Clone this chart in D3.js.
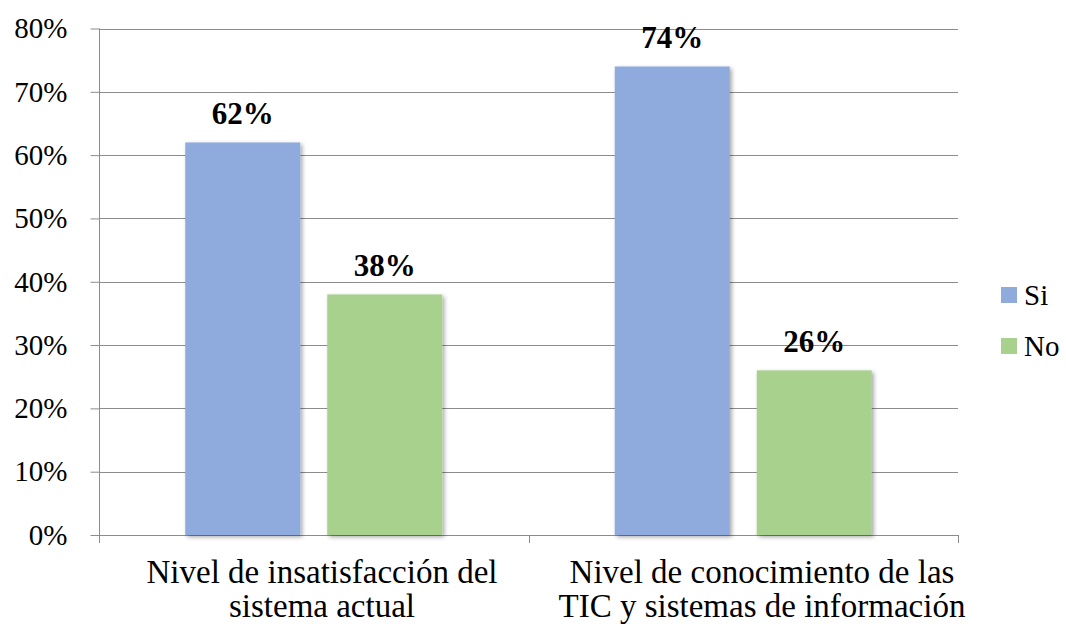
<!DOCTYPE html>
<html>
<head>
<meta charset="utf-8">
<script src="https://cdn.jsdelivr.net/npm/d3@7"></script>
<style>
  html, body { margin: 0; padding: 0; background: #fff; }
  svg { display: block; }
  svg text { font-family: "Liberation Serif", "Times New Roman", Times, serif !important; }
</style>
</head>
<body>
<svg id="chart" width="1066" height="624"></svg>
<script>
// ---- data ----
const categories = [
  ["Nivel de insatisfacción del", "sistema actual"],
  ["Nivel de conocimiento de las", "TIC y sistemas de información"]
];
const seriesNames = ["Si", "No"];
const siValues = [0.62, 0.74];
const noValues = [0.38, 0.26];
const yTicks = [0, 0.1, 0.2, 0.3, 0.4, 0.5, 0.6, 0.7, 0.8];
const colors = ["#8FAADC", "#A9D18E"];

(function () {
const series = [siValues, noValues];
const data = categories.map((c, i) => ({
  idx: i,
  values: seriesNames.map((s, j) => ({ key: s, j, value: series[j][i] }))
}));

const svg = d3.select("#chart");
const pLeft = 99, pRight = 958, pTop = 28.5, pBottom = 535;

const defs = svg.append("defs");
const f = defs.append("filter").attr("id", "shadow")
  .attr("x", "-10%").attr("y", "-10%").attr("width", "130%").attr("height", "130%");
f.append("feDropShadow").attr("dx", 2).attr("dy", 2).attr("stdDeviation", 2)
  .attr("flood-color", "#000").attr("flood-opacity", 0.35);

const y = d3.scaleLinear().domain([0, 0.8]).range([pBottom, pTop]);
const x0 = d3.scaleBand().domain(d3.range(categories.length)).range([pLeft, pRight]).padding(0);
const x1 = d3.scaleBand().domain(seriesNames)
  .range([86.25, x0.bandwidth() - 86.25]).paddingInner(0.19).paddingOuter(0);
const xLabel = d3.scaleBand().domain(d3.range(categories.length)).range([102, 982]).padding(0);

// gridlines
svg.append("g").selectAll("line").data(yTicks.filter(t => t > 0)).join("line")
  .attr("x1", pLeft).attr("x2", pRight)
  .attr("y1", d => Math.round(y(d)) + 0.5).attr("y2", d => Math.round(y(d)) + 0.5)
  .attr("stroke", "#8c8c8c").attr("stroke-width", 1);

// y axis
const yAxis = d3.axisLeft(y).tickValues(yTicks).tickSize(9).tickPadding(23)
  .tickFormat(d3.format(".0%"));
const gy = svg.append("g").attr("transform", `translate(${pLeft + 0.5},0)`).call(yAxis)
  .attr("font-family", null).attr("font-size", null);
gy.select(".domain").attr("stroke", "#8c8c8c").attr("d", `M0,${pTop}V${pBottom}`);
gy.selectAll(".tick line").attr("stroke", "#8c8c8c");
gy.selectAll(".tick text").attr("fill", "#000").style("font-size", "29px");

// x axis baseline & ticks
const bx = [pLeft, pLeft + x0.bandwidth(), pRight];
svg.append("line").attr("x1", pLeft).attr("x2", pRight)
  .attr("y1", pBottom + 0.5).attr("y2", pBottom + 0.5).attr("stroke", "#8c8c8c");
svg.append("g").selectAll("line").data(bx).join("line")
  .attr("x1", d => Math.round(d) + 0.5).attr("x2", d => Math.round(d) + 0.5)
  .attr("y1", pBottom).attr("y2", pBottom + 8).attr("stroke", "#8c8c8c");

// bars
const groups = svg.append("g").selectAll("g").data(data).join("g")
  .attr("transform", d => `translate(${x0(d.idx)},0)`);
groups.selectAll("rect").data(d => d.values).join("rect")
  .attr("x", d => x1(d.key)).attr("width", x1.bandwidth())
  .attr("y", d => y(d.value)).attr("height", d => y(0) - y(d.value))
  .attr("fill", d => colors[d.j]).attr("filter", "url(#shadow)");

// data labels
groups.selectAll("text.lbl").data(d => d.values).join("text").attr("class", "lbl")
  .attr("x", d => x1(d.key) + x1.bandwidth() / 2)
  .attr("y", d => y(d.value) - 18.5)
  .attr("text-anchor", "middle").style("font-weight", "bold").style("font-size", "31px")
  .text(d => d3.format(".0%")(d.value));

// category labels
const cl = svg.append("g").selectAll("text").data(categories).join("text")
  .attr("text-anchor", "middle").style("font-size", "33px").attr("fill", "#000");
cl.selectAll("tspan").data((d, i) => d.map(t => ({ t, i }))).join("tspan")
  .attr("x", d => xLabel(d.i) + xLabel.bandwidth() / 2)
  .attr("y", (d, k) => 583 + k * 34)
  .text(d => d.t);

// legend
const lg = svg.append("g").selectAll("g").data(seriesNames).join("g")
  .attr("transform", (d, i) => `translate(1001,${287 + i * 51})`);
lg.append("rect").attr("width", 16).attr("height", 16).attr("fill", (d, i) => colors[i]);
lg.append("text").attr("x", 23).attr("y", 18).style("font-size", "29px").text(d => d);
})();
</script>
</body>
</html>
